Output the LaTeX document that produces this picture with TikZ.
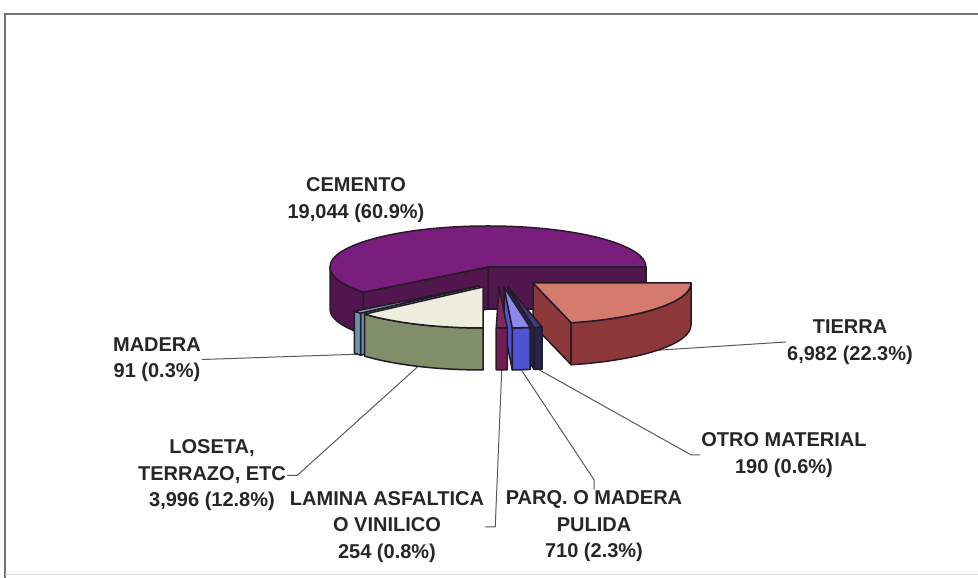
\documentclass[tikz,border=0pt]{standalone}
\usepackage{fontspec}
\setmainfont{Liberation Sans}
\usepackage{tikz}
\pgfdeclarelayer{background}
\pgfsetlayers{background,main}

\definecolor{outl}{RGB}{38,26,38}
\definecolor{cemtop}{RGB}{122,30,126}
\definecolor{cemside}{RGB}{82,22,78}
\definecolor{tietop}{RGB}{212,122,110}
\definecolor{tieside}{RGB}{140,56,58}
\definecolor{lostop}{RGB}{238,238,222}
\definecolor{losside}{RGB}{128,142,106}
\definecolor{madtop}{RGB}{120,170,190}
\definecolor{madside}{RGB}{100,150,175}
\definecolor{lamtop}{RGB}{130,40,95}
\definecolor{lamside}{RGB}{112,30,80}
\definecolor{partop}{RGB}{138,138,236}
\definecolor{parside}{RGB}{76,86,210}
\definecolor{ottop}{RGB}{60,60,130}
\definecolor{otside}{RGB}{36,36,76}

\newcommand{\pieRx}{158}
\newcommand{\pieRy}{41}
\newcommand{\pieD}{42}

% #1 apex, #2 start angle, #3 end angle, #4 top colour, #5 side colour, #6 name
\newcommand{\pieslice}[6]{%
\begin{scope}[shift={#1}]
\pgfmathparse{cos(#2)>0.01 ? 1 : 0}
\ifdim\pgfmathresult pt>0.5pt
\filldraw[slice,fill=#5] (0,0) -- (#2:{\pieRx} and {\pieRy}) -- ++(0,-\pieD) -- (0,-\pieD) -- cycle;
\fi
\pgfmathparse{cos(#3)<-0.01 ? 1 : 0}
\ifdim\pgfmathresult pt>0.5pt
\filldraw[slice,fill=#5] (0,0) -- (#3:{\pieRx} and {\pieRy}) -- ++(0,-\pieD) -- (0,-\pieD) -- cycle;
\fi
\pgfmathsetmacro{\wallA}{max(#2,180)}
\filldraw[slice,fill=#5] (\wallA:{\pieRx} and {\pieRy}) arc[start angle=\wallA,end angle=#3,x radius=\pieRx,y radius=\pieRy]
 -- ++(0,-\pieD) arc[start angle=#3,end angle=\wallA,x radius=\pieRx,y radius=\pieRy] -- cycle;
\filldraw[slice,fill=#4] (0,0) -- (#2:{\pieRx} and {\pieRy}) arc[start angle=#2,end angle=#3,x radius=\pieRx,y radius=\pieRy] -- cycle;
\pgfmathsetmacro{\sliceMid}{(#2+#3)/2}
\path (\sliceMid:{\pieRx} and {\pieRy}) ++(0,-\pieD) coordinate (#6-tip);
\end{scope}}

\begin{document}
\begin{tikzpicture}[x=1pt,y=1pt,
 slice/.style={draw=outl,line width=1.5pt,line join=round},
 lbl/.style={font=\fontsize{20}{26.5}\selectfont\bfseries,align=center,inner sep=1pt,text=black!85},
 leader/.style={draw=black!65,line width=1pt}]
\useasboundingbox (0,0) rectangle (978,578);
%frame
\draw[black!55,line width=1.2pt] (5,0) -- (5,564) -- (978,564);
\draw[black!12,line width=1pt] (5,3) -- (978,3);

%slices, back to front
\pieslice{(488,311)}{0}{218}{cemtop}{cemside}{cemento}
\pieslice{(479,292)}{218}{221.5}{madtop}{madside}{madera}
\pieslice{(483,291)}{221.5}{270}{lostop}{losside}{loseta}
\pieslice{(533,295)}{284}{360}{tietop}{tieside}{tierra}
\pieslice{(508,291)}{279.5}{282.5}{ottop}{otside}{otro}
\pieslice{(504,291)}{273}{279.5}{partop}{parside}{parq}
\pieslice{(499,291)}{269}{273}{lamtop}{lamside}{lamina}

%labels
\node[lbl] (cem) at (356,378) {CEMENTO\\19,044 (60.9\%)};
\node[lbl] (tierra) at (850,236) {TIERRA\\6,982 (22.3\%)};
\node[lbl] (otro) at (784,123) {OTRO MATERIAL\\190 (0.6\%)};
\node[lbl] (madera) at (157,218.5) {MADERA\\91 (0.3\%)};
\node[lbl] (loseta) at (212,102.5) {LOSETA,\\TERRAZO, ETC\\3,996 (12.8\%)};
\node[lbl] (lamina) at (387,51) {LAMINA ASFALTICA\\O VINILICO\\254 (0.8\%)};
\node[lbl] (parq) at (594,51.5) {PARQ. O MADERA\\PULIDA\\710 (2.3\%)};

\begin{pgfonlayer}{background}
\draw[leader] (madera.east) -- (madera-tip);
\draw[leader] (loseta.east) -- ++(10,0) -- (loseta-tip);
\draw[leader] (lamina.east) -- ++(10,0) -- (lamina-tip);
\draw[leader] (parq.north) -- ++(0,10) -- (parq-tip);
\draw[leader] (otro.west) -- ++(-9,0) -- (otro-tip);
\draw[leader] (tierra.west) -- (tierra-tip);
\end{pgfonlayer}
\end{tikzpicture}
\end{document}
